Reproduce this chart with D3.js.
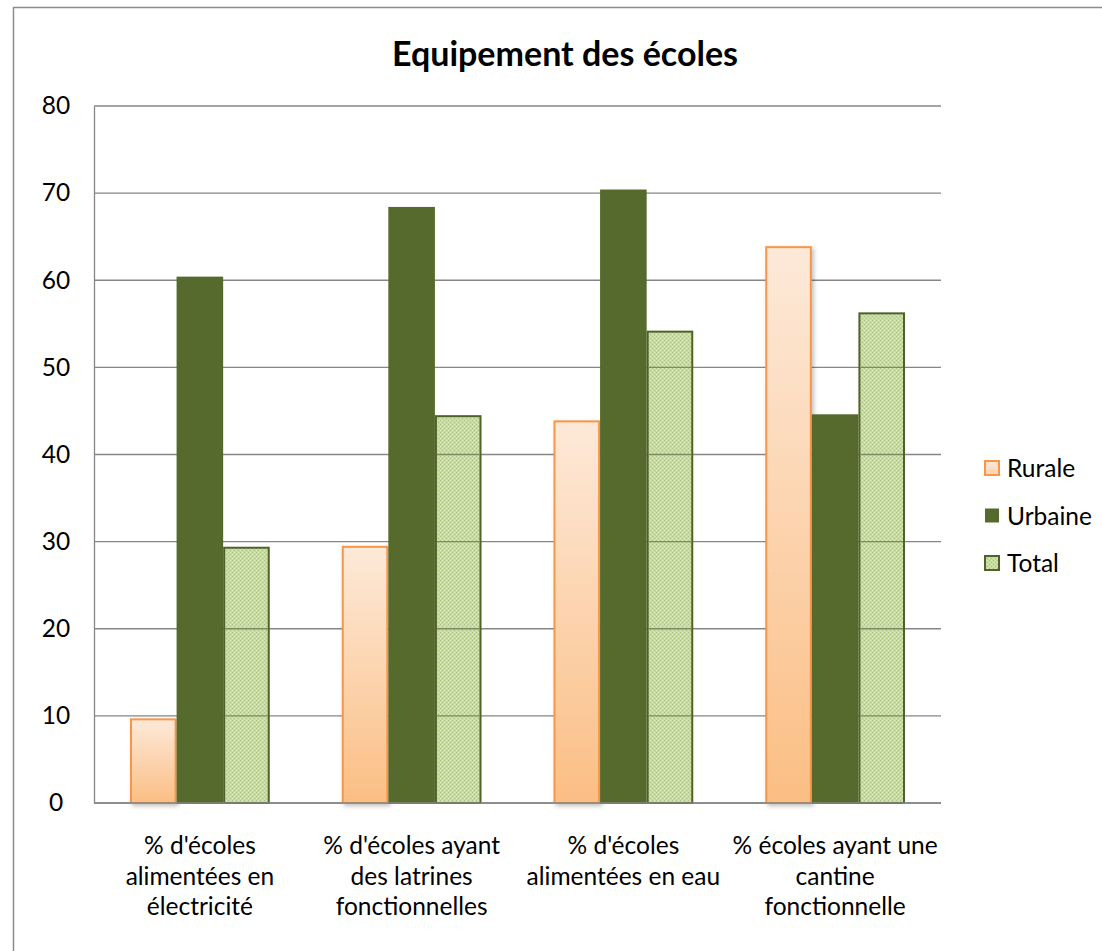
<!DOCTYPE html>
<html>
<head>
<meta charset="utf-8">
<script src="https://cdn.jsdelivr.net/npm/d3@7"></script>
<style>
    body { margin: 0; background: #fff; }
    svg { display: block; font-family: Lato, "Open Sans", sans-serif; }
</style>
</head>
<body>
<svg id="chart" width="1102" height="951"></svg>
<script>
const categories = [
    ["% d'écoles", "alimentées en", "électricité"],
    ["% d'écoles ayant", "des latrines", "fonctionnelles"],
    ["% d'écoles", "alimentées en eau"],
    ["% écoles ayant une", "cantine", "fonctionnelle"]
];
const seriesNames = ["Rurale", "Urbaine", "Total"];
const rurale = [9.6, 29.4, 43.8, 63.8];
const urbaine = [60.3, 68.3, 70.3, 44.5];
const total = [29.3, 44.4, 54.1, 56.2];
const yTicks = [0, 10, 20, 30, 40, 50, 60, 70, 80];

const width = 1102, height = 951;
const margin = {top: 106, right: 161, bottom: 148, left: 94};
const fontSize = 24.5;

const svg = d3.select("#chart");
const defs = svg.append("defs");

// gradient for Rurale bars
const grad = defs.append("linearGradient")
    .attr("id", "ruraleGrad")
    .attr("x1", 0).attr("y1", 0).attr("x2", 0).attr("y2", 1);
grad.append("stop").attr("offset", "0%").attr("stop-color", "#fde9d9");
grad.append("stop").attr("offset", "100%").attr("stop-color", "#fbbe84");

// gradient for the legend square
const gradL = defs.append("linearGradient")
    .attr("id", "ruraleGradL")
    .attr("x1", 0).attr("y1", 0).attr("x2", 0).attr("y2", 1);
gradL.append("stop").attr("offset", "0%").attr("stop-color", "#fde9d9");
gradL.append("stop").attr("offset", "100%").attr("stop-color", "#fcd3b0");

// dotted pattern for Total
const pat = defs.append("pattern")
    .attr("id", "totalPat")
    .attr("patternUnits", "userSpaceOnUse")
    .attr("width", 4).attr("height", 4);
pat.append("rect").attr("width", 4).attr("height", 4).attr("fill", "#c8dca0");
pat.append("rect").attr("x", 0).attr("y", 0).attr("width", 1).attr("height", 1).attr("fill", "#a9c47a");
pat.append("rect").attr("x", 2).attr("y", 2).attr("width", 1).attr("height", 1).attr("fill", "#a9c47a");
pat.append("rect").attr("x", 2).attr("y", 0).attr("width", 1).attr("height", 1).attr("fill", "#dbe8c2");
pat.append("rect").attr("x", 0).attr("y", 2).attr("width", 1).attr("height", 1).attr("fill", "#dbe8c2");

// soft shadow
const shadow = defs.append("filter").attr("id", "shadow")
    .attr("x", "-20%").attr("y", "-5%").attr("width", "150%").attr("height", "115%");
shadow.append("feDropShadow")
    .attr("dx", 2).attr("dy", 2).attr("stdDeviation", 2)
    .attr("flood-color", "#000").attr("flood-opacity", 0.25);

// outer border
svg.append("rect")
    .attr("x", 13.5).attr("y", 7.5)
    .attr("width", width).attr("height", height)
    .attr("fill", "none").attr("stroke", "#8c8c8c").attr("stroke-width", 1.5);

const plotW = width - margin.left - margin.right;
const plotH = height - margin.top - margin.bottom;

const x0 = d3.scaleBand()
    .domain(d3.range(categories.length))
    .range([margin.left, margin.left + plotW])
    .paddingInner(0.34).paddingOuter(0.17);
const x1 = d3.scaleBand()
    .domain(seriesNames)
    .range([0, x0.bandwidth()]);
const y = d3.scaleLinear()
    .domain([0, 80])
    .range([margin.top + plotH, margin.top]);

// gridlines
svg.append("g")
    .selectAll("line")
    .data(yTicks)
    .enter()
    .append("line")
    .attr("x1", margin.left).attr("x2", margin.left + plotW)
    .attr("y1", d => y(d)).attr("y2", d => y(d))
    .attr("stroke", "#868686").attr("stroke-width", 1.3);

// y axis
const yAxis = svg.append("g")
    .attr("transform", `translate(${margin.left},0)`)
    .call(d3.axisLeft(y).tickValues(yTicks).tickSize(0).tickPadding(27));
yAxis.select(".domain").attr("stroke", "#868686").attr("stroke-width", 1.3);
yAxis.selectAll("text")
    .attr("font-size", fontSize).attr("fill", "#000")
    .attr("font-family", "Lato, sans-serif")
    .attr("text-anchor", "middle").attr("dx", "-0.45em");

const seriesData = [
    {name: "Rurale", values: rurale, fill: "url(#ruraleGrad)", stroke: "#f79646"},
    {name: "Urbaine", values: urbaine, fill: "#556a2c", stroke: "#556a2c"},
    {name: "Total", values: total, fill: "url(#totalPat)", stroke: "#4f6228"}
];

// bars
const groups = svg.append("g")
    .selectAll("g")
    .data(seriesData)
    .enter()
    .append("g");
groups.selectAll("rect")
    .data(s => s.values.map((v, i) => ({v, i, s})))
    .enter()
    .append("rect")
    .attr("x", d => x0(d.i) + x1(d.s.name) + 1)
    .attr("y", d => y(d.v))
    .attr("width", x1.bandwidth() - 2)
    .attr("height", d => y(0) - y(d.v))
    .attr("fill", d => d.s.fill)
    .attr("stroke", d => d.s.stroke)
    .attr("stroke-width", 2)
    .attr("filter", d => d.s.name === "Rurale" ? "url(#shadow)" : null);

// gridlines showing through Total bars
svg.append("g")
    .selectAll("line")
    .data(d3.cross(total.map((v, i) => ({v, i})), yTicks.slice(1)).filter(([b, t]) => t < b.v))
    .enter()
    .append("line")
    .attr("x1", d => x0(d[0].i) + x1("Total") + 2)
    .attr("x2", d => x0(d[0].i) + x1("Total") + x1.bandwidth() - 2)
    .attr("y1", d => y(d[1])).attr("y2", d => y(d[1]))
    .attr("stroke", "#7d8c5e").attr("stroke-width", 1.3);

// x axis baseline
svg.append("line")
    .attr("x1", margin.left).attr("x2", margin.left + plotW)
    .attr("y1", y(0)).attr("y2", y(0))
    .attr("stroke", "#868686").attr("stroke-width", 1.3);

// category labels
const catLabels = svg.append("g")
    .selectAll("text")
    .data(categories)
    .enter()
    .append("text")
    .attr("text-anchor", "middle")
    .attr("font-size", fontSize)
    .attr("fill", "#000")
    .attr("transform", (d, i) => `translate(${x0(i) + x0.bandwidth() / 2},854)`);
catLabels.selectAll("tspan")
    .data(d => d)
    .enter()
    .append("tspan")
    .attr("x", 0)
    .attr("y", (d, j) => j * 30.5)
    .text(d => d);

// title
svg.append("text")
    .attr("x", 565).attr("y", 66)
    .attr("text-anchor", "middle")
    .attr("font-size", 34).attr("font-weight", "bold")
    .attr("fill", "#000")
    .text("Equipement des écoles");

// legend
const legend = svg.append("g")
    .selectAll("g")
    .data(seriesData)
    .enter()
    .append("g")
    .attr("transform", (d, i) => `translate(985,${461 + i * 47.5})`);
legend.append("rect")
    .attr("width", 14).attr("height", 14)
    .attr("fill", d => d.name === "Rurale" ? "url(#ruraleGradL)" : d.fill)
    .attr("stroke", d => d.stroke)
    .attr("stroke-width", d => d.name === "Urbaine" ? 0 : 2);
legend.append("text")
    .attr("x", 22).attr("y", 16)
    .attr("font-size", fontSize)
    .attr("fill", "#000")
    .text(d => d.name);
</script>
</body>
</html>
